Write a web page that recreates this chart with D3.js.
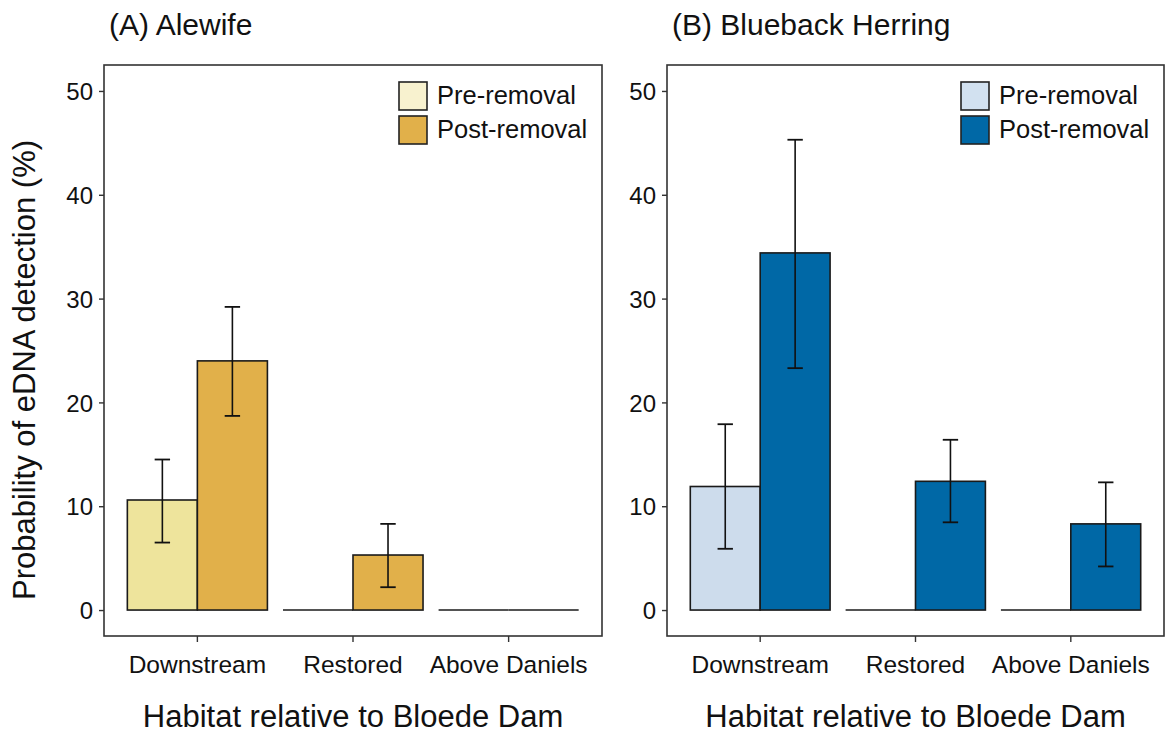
<!DOCTYPE html>
<html>
<head>
<meta charset="utf-8">
<script src="https://cdn.jsdelivr.net/npm/d3@7"></script>
<style>
  body { margin: 0; background: #fff; }
  text { font-family: "Liberation Sans", Arial, sans-serif; fill: #111; }
</style>
</head>
<body>
<svg id="chart" width="1168" height="734"></svg>
<script>
// data
var categories = ["Downstream", "Restored", "Above Daniels"];
var seriesNames = ["Pre-removal", "Post-removal"];
var yTicks = [0, 10, 20, 30, 40, 50];

var alewifePre = [10.6, 0, 0];
var alewifePreLow = [6.5, null, null];
var alewifePreHigh = [14.5, null, null];
var alewifePost = [24.0, 5.3, 0];
var alewifePostLow = [18.7, 2.2, null];
var alewifePostHigh = [29.2, 8.3, null];

var bluebackPre = [11.9, 0, 0];
var bluebackPreLow = [5.9, null, null];
var bluebackPreHigh = [17.9, null, null];
var bluebackPost = [34.4, 12.4, 8.3];
var bluebackPostLow = [23.3, 8.45, 4.2];
var bluebackPostHigh = [45.3, 16.4, 12.3];

var svg = d3.select("#chart");

function rows(pre, preLo, preHi, post, postLo, postHi) {
  var out = [];
  categories.forEach(function (c, i) {
    out.push({cat: c, series: seriesNames[0], v: pre[i], lo: preLo[i], hi: preHi[i]});
    out.push({cat: c, series: seriesNames[1], v: post[i], lo: postLo[i], hi: postHi[i]});
  });
  return out;
}

function drawPanel(opt) {
  var left = opt.left, right = opt.right, top = 65, bottom = 636;
  var g = svg.append("g");

  var x = d3.scaleBand()
    .domain(categories)
    .range([left, right])
    .paddingInner(0.1)
    .paddingOuter(0.15);

  var xs = d3.scaleBand()
    .domain(seriesNames)
    .range([0, x.bandwidth()]);

  var y = d3.scaleLinear()
    .domain([-2.5, 52.5])
    .range([bottom, top]);

  var data = opt.data;

  // bars (zero-height ones become a flat line)
  g.selectAll(".bar")
    .data(data.filter(function (d) { return d.v > 0; }))
    .enter().append("rect")
    .attr("x", function (d) { return x(d.cat) + xs(d.series); })
    .attr("y", function (d) { return y(d.v); })
    .attr("width", xs.bandwidth())
    .attr("height", function (d) { return y(0) - y(d.v); })
    .attr("fill", function (d) { return d.series == seriesNames[0] ? opt.colors[0] : opt.colors[1]; })
    .attr("stroke", "#1a1a1a")
    .attr("stroke-width", 1.6);

  g.selectAll(".zero")
    .data(data.filter(function (d) { return d.v == 0; }))
    .enter().append("line")
    .attr("x1", function (d) { return x(d.cat) + xs(d.series); })
    .attr("x2", function (d) { return x(d.cat) + xs(d.series) + xs.bandwidth(); })
    .attr("y1", y(0))
    .attr("y2", y(0))
    .attr("stroke", "#1a1a1a")
    .attr("stroke-width", 1.6);

  // error bars
  var eb = data.filter(function (d) { return d.lo != null; });
  var cap = xs.bandwidth() * 0.11;
  var cx = function (d) { return x(d.cat) + xs(d.series) + xs.bandwidth() / 2; };
  g.selectAll(".err")
    .data(eb)
    .enter().append("line")
    .attr("x1", cx).attr("x2", cx)
    .attr("y1", function (d) { return y(d.lo); })
    .attr("y2", function (d) { return y(d.hi); })
    .attr("stroke", "#111").attr("stroke-width", 1.6);
  ["lo", "hi"].forEach(function (k) {
    g.selectAll(".cap" + k)
      .data(eb)
      .enter().append("line")
      .attr("x1", function (d) { return cx(d) - cap; })
      .attr("x2", function (d) { return cx(d) + cap; })
      .attr("y1", function (d) { return y(d[k]); })
      .attr("y2", function (d) { return y(d[k]); })
      .attr("stroke", "#111").attr("stroke-width", 1.8);
  });

  // panel border
  g.append("rect")
    .attr("x", left).attr("y", top)
    .attr("width", right - left).attr("height", bottom - top)
    .attr("fill", "none").attr("stroke", "#333").attr("stroke-width", 1.6);

  // axes
  var ya = g.append("g")
    .attr("transform", "translate(" + left + ",0)")
    .call(d3.axisLeft(y).tickValues(yTicks).tickSize(5).tickPadding(6));
  ya.select(".domain").remove();
  ya.selectAll("line").attr("stroke", "#333").attr("stroke-width", 1.4);
  ya.selectAll("text").attr("font-size", "24px").attr("font-family", null).attr("dy", "0.36em");

  var xa = g.append("g")
    .attr("transform", "translate(0," + bottom + ")")
    .call(d3.axisBottom(x).tickSize(6).tickPadding(0));
  xa.select(".domain").remove();
  xa.selectAll("line").attr("stroke", "#333").attr("stroke-width", 1.4);
  xa.selectAll("text").attr("font-size", "24.5px").attr("font-family", null)
    .attr("dy", null).attr("y", 37);

  // titles
  g.append("text")
    .attr("x", opt.titleX).attr("y", 35)
    .attr("font-size", "30px")
    .text(opt.title);

  g.append("text")
    .attr("x", (left + right) / 2).attr("y", 727)
    .attr("text-anchor", "middle")
    .attr("font-size", "31px")
    .text("Habitat relative to Bloede Dam");

  // legend
  var lg = g.append("g").attr("transform", "translate(" + (right - 203) + ",82)");
  seriesNames.forEach(function (s, i) {
    lg.append("rect")
      .attr("x", 0).attr("y", i * 34)
      .attr("width", 28).attr("height", 28)
      .attr("fill", opt.keyColors[i])
      .attr("stroke", "#222").attr("stroke-width", 1.6);
    lg.append("text")
      .attr("x", 38).attr("y", i * 34 + 22)
      .attr("font-size", "25.5px")
      .text(s);
  });
}

drawPanel({
  left: 104, right: 602, titleX: 109, title: "(A) Alewife",
  colors: ["#EEE49C", "#E1B04A"], keyColors: ["#F8F2CF", "#E1B04A"],
  data: rows(alewifePre, alewifePreLow, alewifePreHigh, alewifePost, alewifePostLow, alewifePostHigh)
});
drawPanel({
  left: 667, right: 1164, titleX: 672, title: "(B) Blueback Herring",
  colors: ["#CDDCEC", "#0068A6"], keyColors: ["#D2E1F0", "#0068A6"],
  data: rows(bluebackPre, bluebackPreLow, bluebackPreHigh, bluebackPost, bluebackPostLow, bluebackPostHigh)
});

svg.append("text")
  .attr("transform", "translate(35,370) rotate(-90)")
  .attr("text-anchor", "middle")
  .attr("font-size", "31px")
  .text("Probability of eDNA detection (%)");
</script>
</body>
</html>
